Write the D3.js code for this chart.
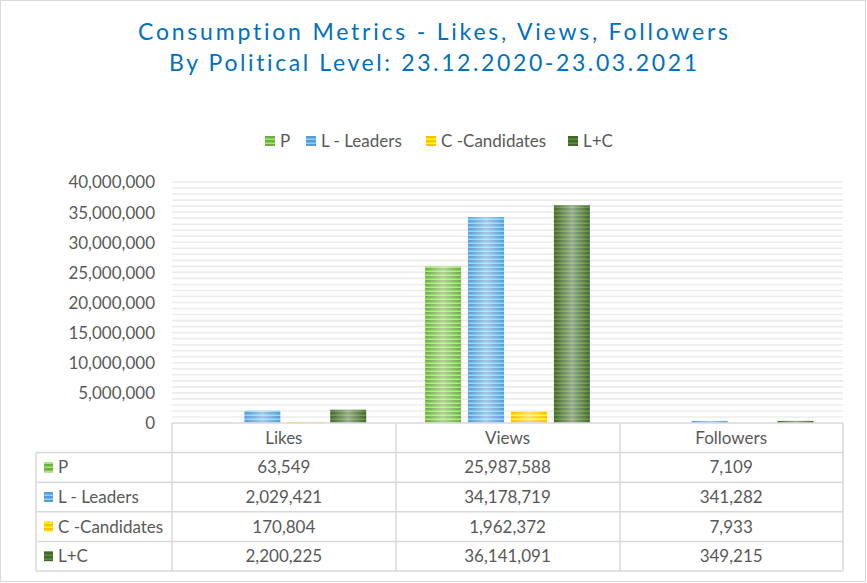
<!DOCTYPE html>
<html>
<head>
<meta charset="utf-8">
<script src="https://cdn.jsdelivr.net/npm/d3@7"></script>
<style>
  body { margin: 0; background: #fff; }
  text { font-family: Lato, "Open Sans", sans-serif; fill: #595959; font-variant-ligatures: none; }
</style>
</head>
<body>
<svg id="chart" width="867" height="583"></svg>
<script>
// data
let categories = ["Likes", "Views", "Followers"];
let seriesNames = ["P", "L - Leaders", "C -Candidates", "L+C"];
let pValues = [63549, 25987588, 7109];
let leaderValues = [2029421, 34178719, 341282];
let candidateValues = [170804, 1962372, 7933];
let lcValues = [2200225, 36141091, 349215];
let yTicks = [0, 5000000, 10000000, 15000000, 20000000, 25000000, 30000000, 35000000, 40000000];
let colors = ["#70ad47", "#5b9bd5", "#ffc000", "#43682b"];

let allValues = [pValues, leaderValues, candidateValues, lcValues];
let fmt = d3.format(",");
let fs = "17px";

let svg = d3.select("#chart");

svg.append("rect").attr("x", 0.5).attr("y", 0.5).attr("width", 865).attr("height", 581)
  .attr("fill", "#fff").attr("stroke", "#d9d9d9");

// striped fills with a soft highlight down the middle
let defs = svg.append("defs");
colors.forEach((c, i) => {
  let pat = defs.append("pattern").attr("id", "stripe" + i)
    .attr("patternUnits", "userSpaceOnUse").attr("width", 8).attr("height", 4);
  pat.append("rect").attr("width", 8).attr("height", 4).attr("fill", c);
  pat.append("rect").attr("y", 2.5).attr("width", 8).attr("height", 1.5)
    .attr("fill", d3.color(c).brighter(0.9));
});
let glow = defs.append("linearGradient").attr("id", "glow");
glow.append("stop").attr("offset", "0%").attr("stop-color", "#fff").attr("stop-opacity", 0);
glow.append("stop").attr("offset", "50%").attr("stop-color", "#fff").attr("stop-opacity", 0.45);
glow.append("stop").attr("offset", "100%").attr("stop-color", "#fff").attr("stop-opacity", 0);

// title
let title = svg.append("g");
[["Consumption Metrics - Likes, Views, Followers", 40, 590],
 ["By Political Level: 23.12.2020-23.03.2021", 71, 528]].forEach(([t, y, w]) => {
  title.append("text").attr("x", 433).attr("y", y).attr("text-anchor", "middle")
    .attr("textLength", w).attr("lengthAdjust", "spacing")
    .style("fill", "#0070c0").style("font-size", "23px").text(t);
});

// legend
let legendX = [265, 306, 426, 568];
let legend = svg.append("g");
seriesNames.forEach((name, i) => {
  legend.append("rect").attr("x", legendX[i]).attr("y", 136).attr("width", 10).attr("height", 10)
    .attr("fill", "url(#stripe" + i + ")");
  legend.append("text").attr("x", legendX[i] + 15).attr("y", 147)
    .style("font-size", fs).text(name);
});

// scales
let x0 = d3.scaleBand().domain(categories).range([172, 843]);
let x1 = d3.scaleBand().domain(seriesNames).range([0, x0.bandwidth()])
  .paddingInner(0.163).paddingOuter(0.686);
let y = d3.scaleLinear().domain([0, 40000000]).range([423, 182]);

// gridlines every million, lighter
svg.append("g").selectAll("line").data(d3.range(1000000, 40000001, 1000000)).join("line")
  .attr("x1", 172).attr("x2", 843).attr("y1", d => y(d)).attr("y2", d => y(d))
  .attr("stroke", "#ececec").attr("stroke-width", 1.6);

// y axis labels
let yAxis = svg.append("g").attr("transform", "translate(172,0)")
  .call(d3.axisLeft(y).tickValues(yTicks).tickFormat(fmt).tickSize(0).tickPadding(17));
yAxis.select(".domain").remove();
yAxis.selectAll("text").style("font-size", fs).style("font-family", "Lato, sans-serif")
  .attr("fill", "#595959").attr("dy", "0.35em");

// bars
let groups = svg.append("g").selectAll("g").data(categories).join("g")
  .attr("transform", d => `translate(${x0(d)},0)`);
groups.each(function (cat, ci) {
  let g = d3.select(this);
  seriesNames.forEach((s, si) => {
    let v = allValues[si][ci];
    let bx = x1(s), by = y(v), bh = y(0) - y(v);
    g.append("rect").attr("x", bx).attr("y", by).attr("width", x1.bandwidth()).attr("height", bh)
      .attr("fill", "url(#stripe" + si + ")");
    g.append("rect").attr("x", bx).attr("y", by).attr("width", x1.bandwidth()).attr("height", bh)
      .attr("fill", "url(#glow)");
  });
});

// data table
let rowTop = 423, rowH = 29.6, tableLeft = 36;
let table = svg.append("g");
let lineStyle = sel => sel.attr("stroke", "#d9d9d9").attr("stroke-width", 1.5).attr("fill", "none");
// horizontal lines
d3.range(0, 6).forEach(r => {
  let yy = rowTop + r * rowH;
  table.append("line").attr("x1", r === 0 ? 172 : tableLeft).attr("x2", 843)
    .attr("y1", yy).attr("y2", yy).call(lineStyle);
});
// vertical lines
table.append("line").attr("x1", tableLeft).attr("x2", tableLeft)
  .attr("y1", rowTop + rowH).attr("y2", rowTop + 5 * rowH).call(lineStyle);
[172, 396, 620, 843].forEach(xx => {
  table.append("line").attr("x1", xx).attr("x2", xx)
    .attr("y1", rowTop).attr("y2", rowTop + 5 * rowH).call(lineStyle);
});
// header
categories.forEach(c => {
  table.append("text").attr("x", x0(c) + x0.bandwidth() / 2).attr("y", rowTop + rowH / 2)
    .attr("dy", "0.35em").attr("text-anchor", "middle").style("font-size", fs).text(c);
});
// rows
seriesNames.forEach((s, si) => {
  let yy = rowTop + (si + 1) * rowH;
  table.append("rect").attr("x", 44).attr("y", yy + rowH / 2 - 5).attr("width", 9).attr("height", 10)
    .attr("fill", "url(#stripe" + si + ")");
  table.append("text").attr("x", 58).attr("y", yy + rowH / 2).attr("dy", "0.35em")
    .style("font-size", fs).text(s);
  categories.forEach((c, ci) => {
    table.append("text").attr("x", x0(c) + x0.bandwidth() / 2).attr("y", yy + rowH / 2)
      .attr("dy", "0.35em").attr("text-anchor", "middle").style("font-size", fs)
      .text(fmt(allValues[si][ci]));
  });
});
</script>
</body>
</html>
